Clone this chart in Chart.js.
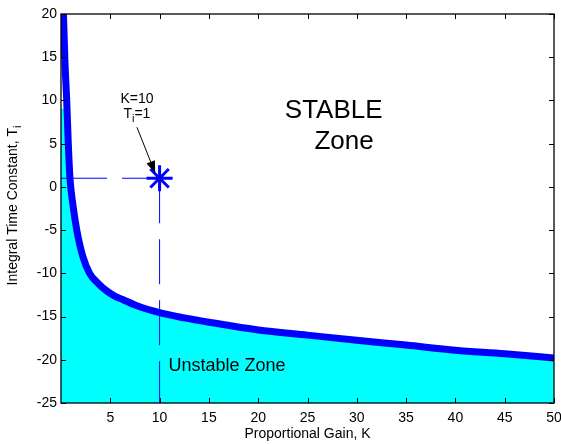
<!DOCTYPE html>
<html>
<head>
<meta charset="utf-8">
<script src="https://cdn.jsdelivr.net/npm/chart.js@4.4.0/dist/chart.umd.min.js"></script>
<style>
  body { margin: 0; background: #fff; }
  #wrap { width: 561px; height: 444px; position: relative; }
</style>
</head>
<body>
<div id="wrap"><canvas id="chart"></canvas></div>
<script>
// stability boundary
const gainK = [0.25, 0.4, 0.58, 0.74, 0.91, 1.2, 1.6, 2.2, 2.9, 3.8, 4.6, 5.4, 6.2, 7.7, 10, 12.5, 15, 20, 25, 30, 35, 40, 45, 50];
const timeTi = [20, 14.5, 10, 5, 1, -2, -5, -8, -10, -11.2, -12, -12.6, -13.0, -13.75, -14.55, -15.15, -15.65, -16.55, -17.15, -17.75, -18.3, -18.9, -19.3, -19.8];

// thin cyan strip between the y axis and the steep part of the curve
const stripK = [0, 0.6];
const stripTi = [9, 9];

// chosen operating point
const opK = [10];
const opTi = [1];

// axis ticks
const xTickVals = [5, 10, 15, 20, 25, 30, 35, 40, 45, 50];
const yTickVals = [-25, -20, -15, -10, -5, 0, 5, 10, 15, 20];

const FONT = "'Liberation Sans', Arial, sans-serif";
const BLUE = '#0000ff';
const CYAN = '#00ffff';

const boundary = gainK.map((k, i) => ({ x: k, y: timeTi[i] }));
const strip = stripK.map((k, i) => ({ x: k, y: stripTi[i] }));
const opPoint = opK.map((k, i) => ({ x: k, y: opTi[i] }));
const hLine = [{ x: 0, y: opTi[0] }, { x: opK[0], y: opTi[0] }];
const vLine = [{ x: opK[0], y: opTi[0] }, { x: opK[0], y: yTickVals[0] }];

function textWithSub(ctx, base, sub, tail, x, y, size, align) {
    ctx.font = size + 'px ' + FONT;
    const wBase = ctx.measureText(base).width;
    const wTail = ctx.measureText(tail).width;
    ctx.font = Math.round(size * 0.75) + 'px ' + FONT;
    const wSub = ctx.measureText(sub).width;
    const total = wBase + wSub + wTail;
    let x0 = x;
    if (align === 'center') x0 = x - total / 2;
    ctx.textAlign = 'left';
    ctx.textBaseline = 'alphabetic';
    ctx.font = size + 'px ' + FONT;
    ctx.fillText(base, x0, y);
    ctx.font = Math.round(size * 0.75) + 'px ' + FONT;
    ctx.fillText(sub, x0 + wBase, y + size * 0.3);
    ctx.font = size + 'px ' + FONT;
    ctx.fillText(tail, x0 + wBase + wSub, y);
}

const decorations = {
    id: 'decorations',
    afterDraw(chart) {
        const { ctx, chartArea: a, scales: { x, y } } = chart;
        ctx.save();

        // box and inward ticks
        ctx.strokeStyle = '#000';
        ctx.lineWidth = 1.3;
        ctx.strokeRect(a.left, a.top, a.right - a.left, a.bottom - a.top);
        ctx.lineWidth = 1;
        ctx.beginPath();
        xTickVals.forEach(v => {
            const px = Math.round(x.getPixelForValue(v)) + 0.5;
            ctx.moveTo(px, a.bottom); ctx.lineTo(px, a.bottom - 5);
            ctx.moveTo(px, a.top); ctx.lineTo(px, a.top + 5);
        });
        yTickVals.forEach(v => {
            const py = Math.round(y.getPixelForValue(v)) + 0.5;
            ctx.moveTo(a.left, py); ctx.lineTo(a.left + 5, py);
            ctx.moveTo(a.right, py); ctx.lineTo(a.right - 5, py);
        });
        ctx.stroke();

        ctx.fillStyle = '#000';

        // x tick labels
        ctx.font = '14px ' + FONT;
        ctx.textAlign = 'center';
        ctx.textBaseline = 'alphabetic';
        xTickVals.forEach(v => {
            ctx.fillText(String(v), x.getPixelForValue(v), a.bottom + 19);
        });

        // zone labels
        ctx.font = '26px ' + FONT;
        ctx.textAlign = 'left';
        ctx.fillText('STABLE', x.getPixelForValue(22.7), y.getPixelForValue(8.0));
        ctx.fillText('Zone', x.getPixelForValue(25.7), y.getPixelForValue(4.4));
        ctx.font = '18px ' + FONT;
        ctx.fillText('Unstable Zone', x.getPixelForValue(10.9), y.getPixelForValue(-21.3));

        // operating point label
        const lx = x.getPixelForValue(7.7);
        ctx.font = '14px ' + FONT;
        ctx.textAlign = 'center';
        ctx.fillText('K=10', lx, y.getPixelForValue(9.7));
        textWithSub(ctx, 'T', 'i', '=1', lx, y.getPixelForValue(8.0), 14, 'center');

        // arrow
        const x1 = x.getPixelForValue(7.7), y1 = y.getPixelForValue(6.9);
        const x2 = x.getPixelForValue(9.55), y2 = y.getPixelForValue(1.6);
        const ang = Math.atan2(y2 - y1, x2 - x1);
        ctx.strokeStyle = '#000';
        ctx.lineWidth = 1;
        ctx.beginPath();
        ctx.moveTo(x1, y1);
        ctx.lineTo(x2 - 10 * Math.cos(ang), y2 - 10 * Math.sin(ang));
        ctx.stroke();
        ctx.beginPath();
        ctx.moveTo(x2, y2);
        ctx.lineTo(x2 - 12 * Math.cos(ang) + 4.5 * Math.sin(ang), y2 - 12 * Math.sin(ang) - 4.5 * Math.cos(ang));
        ctx.lineTo(x2 - 12 * Math.cos(ang) - 4.5 * Math.sin(ang), y2 - 12 * Math.sin(ang) + 4.5 * Math.cos(ang));
        ctx.closePath();
        ctx.fill();

        // y axis title with subscript
        ctx.save();
        ctx.translate(17, (a.top + a.bottom) / 2 - 3);
        ctx.rotate(-Math.PI / 2);
        textWithSub(ctx, 'Integral Time Constant, T', 'i', '', 0, 0, 14, 'center');
        ctx.restore();

        ctx.restore();
    }
};

new Chart(document.getElementById('chart'), {
    type: 'line',
    data: {
        datasets: [
            {
                data: strip,
                borderWidth: 0,
                borderColor: CYAN,
                backgroundColor: CYAN,
                fill: 'start',
                pointRadius: 0,
                order: 4
            },
            {
                data: boundary,
                borderColor: BLUE,
                backgroundColor: CYAN,
                borderWidth: 7,
                fill: 'start',
                pointRadius: 0,
                cubicInterpolationMode: 'monotone',
                order: 3
            },
            {
                data: hLine,
                borderColor: BLUE,
                borderWidth: 1,
                borderDash: [46, 15],
                pointRadius: 0,
                fill: false,
                order: 2
            },
            {
                data: vLine,
                borderColor: BLUE,
                borderWidth: 1,
                borderDash: [45, 16],
                pointRadius: 0,
                fill: false,
                order: 1
            },
            {
                data: opPoint,
                showLine: false,
                pointStyle: 'star',
                pointRadius: 13,
                borderColor: BLUE,
                pointBorderWidth: 3,
                fill: false,
                order: 0
            }
        ]
    },
    options: {
        responsive: true,
        maintainAspectRatio: false,
        animation: false,
        layout: { autoPadding: false, padding: { top: 14, right: 7, left: 0, bottom: 0 } },
        plugins: { legend: { display: false }, tooltip: { enabled: false } },
        scales: {
            x: {
                type: 'linear',
                min: 0,
                max: 50,
                afterBuildTicks: s => { s.ticks = xTickVals.map(v => ({ value: v })); },
                afterFit: s => { s.height = 41; },
                grid: { display: false, drawTicks: false },
                border: { display: false },
                ticks: { display: false },
                title: { display: true, text: 'Proportional Gain, K', color: '#000', font: { family: FONT, size: 14 }, padding: { top: 0, bottom: 1 } }
            },
            y: {
                type: 'linear',
                min: -25,
                max: 20,
                afterBuildTicks: s => { s.ticks = yTickVals.map(v => ({ value: v })); },
                afterFit: s => { s.width = 61; },
                grid: { display: false, drawTicks: false },
                border: { display: false },
                ticks: { color: '#000', font: { family: FONT, size: 14 }, padding: 4, autoSkip: false }
            }
        }
    },
    plugins: [decorations]
});
</script>
</body>
</html>
